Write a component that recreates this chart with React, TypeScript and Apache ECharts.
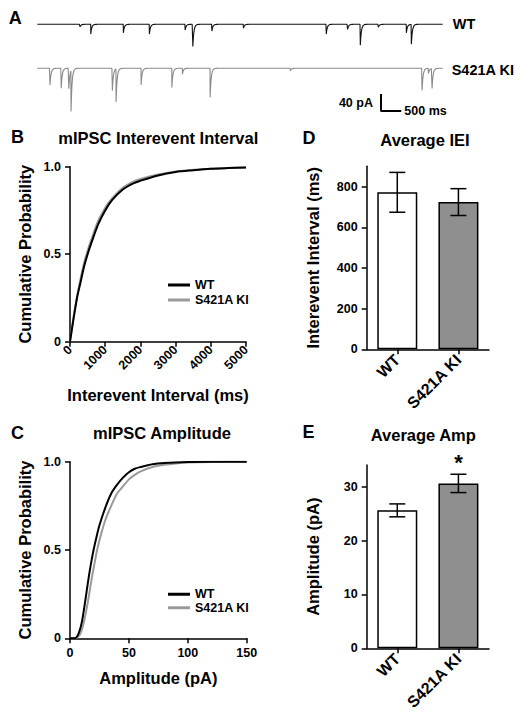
import React, { useEffect, useRef } from "react";
import * as echarts from "echarts";

// ---------- Panel A: mIPSC traces (event times in ms, amplitudes in pA) ----------
const traceDurationMs = 10000;
const wtEventTimes = [1054, 1319, 2123, 2765, 3647, 3837, 4306, 5086, 7128, 7654, 7968, 8412, 9104, 9227];
const wtEventAmps = [6, 23, 20, 23, 14, 52, 16, 9, 23, 12, 49, 7, 20, 47];
const kiEventTimes = [314, 590, 778, 832, 1852, 1943, 2560, 3319, 3580, 4264, 6240, 9491, 9650, 9738];
const kiEventAmps = [39, 47, 48, 96, 52, 78, 39, 45, 14, 68, 6, 52, 12, 47];
const traceOffsetsPa = [0, -103.5];
const decayTauMs = 25;
const scaleBarOrigin = [8478, -204];
const scaleBarMs = 500;
const scaleBarPa = 40;

// ---------- Panel B: cumulative IEI ----------
const ieiMs = [0, 100, 200, 300, 400, 500, 600, 800, 1000, 1200, 1500, 1800, 2000, 2500, 3000, 3500, 4000, 4500, 5000];
const ieiCdfWT = [0, 0.13, 0.25, 0.34, 0.43, 0.5, 0.56, 0.67, 0.75, 0.81, 0.87, 0.905, 0.92, 0.95, 0.97, 0.98, 0.988, 0.992, 0.995];
const ieiCdfKI = [0, 0.14, 0.26, 0.36, 0.45, 0.52, 0.58, 0.69, 0.765, 0.82, 0.88, 0.915, 0.93, 0.955, 0.972, 0.982, 0.988, 0.993, 0.996];

// ---------- Panel C: cumulative amplitude ----------
const ampPaWT = [0, 4, 6, 8, 10, 12, 14, 16, 18, 20, 22, 25, 30, 35, 40, 45, 50, 55, 60, 70, 80, 100, 120, 150];
const ampCdfWT = [0, 0, 0.01, 0.04, 0.09, 0.17, 0.26, 0.35, 0.43, 0.5, 0.56, 0.64, 0.74, 0.82, 0.87, 0.91, 0.94, 0.96, 0.97, 0.985, 0.992, 0.998, 1, 1];
const ampPaKI = [0, 5, 7, 9, 11, 13, 15, 17, 19, 21, 23, 26, 30, 35, 40, 45, 50, 55, 60, 70, 80, 90, 100, 120, 150];
const ampCdfKI = [0, 0, 0.01, 0.03, 0.07, 0.13, 0.2, 0.28, 0.36, 0.43, 0.5, 0.58, 0.67, 0.75, 0.82, 0.86, 0.9, 0.925, 0.945, 0.97, 0.982, 0.99, 0.995, 0.999, 1];

// ---------- Panels D, E: averages ----------
const groups = ["WT", "S421A KI"];
const ieiMean = [772, 724];
const ieiSem = [98, 66];
const ampMean = [25.6, 30.6];
const ampSem = [1.2, 1.7];
const ampSig = ["", "*"];

const FONT = "'Liberation Sans', Arial, Helvetica, sans-serif";
const BLACK = "#000000";
const GREY_LINE = "#9a9a9a";
const GREY_TRACE = "#8a8a8a";
const GREY_BAR = "#8f8f8f";

function buildTrace(times: number[], amps: number[], offset: number): number[][] {
  const ts = new Set<number>();
  for (let t = 0; t <= traceDurationMs; t += 20) ts.add(t);
  const ks = [0.3, 0.7, 1, 1.5, 2, 3, 4];
  times.forEach((t0) => {
    ts.add(t0 - 1);
    ts.add(t0);
    ks.forEach((k) => ts.add(t0 + k * decayTauMs));
  });
  const sorted = Array.from(ts).filter((t) => t >= 0 && t <= traceDurationMs).sort((a, b) => a - b);
  return sorted.map((t) => {
    let v = offset;
    times.forEach((t0, i) => {
      if (t >= t0) v -= amps[i] * Math.exp(-(t - t0) / decayTauMs);
    });
    return [t, v];
  });
}

const zip = (xs: number[], ys: number[]) => xs.map((x, i) => [x, ys[i]]);

const axisLineStyle = { lineStyle: { color: BLACK, width: 1.5 } };
const tickStyle = { show: true, length: 5, lineStyle: { color: BLACK, width: 1.5 } };
const labelStyle = (size: number) => ({ color: BLACK, fontWeight: "bold" as const, fontSize: size, fontFamily: FONT });
const nameStyle = { color: BLACK, fontWeight: "bold" as const, fontSize: 16.5, fontFamily: FONT };

function errorBarRender(withSig: string[] | null) {
  return (params: any, api: any) => {
    const idx = api.value(0);
    const m = api.value(1);
    const e = api.value(2);
    const top = api.coord([idx, m + e]);
    const bot = api.coord([idx, m - e]);
    const hw = 8;
    const st = { stroke: BLACK, lineWidth: 1.5 };
    const children: any[] = [
      { type: "line", shape: { x1: top[0], y1: top[1], x2: bot[0], y2: bot[1] }, style: st },
      { type: "line", shape: { x1: top[0] - hw, y1: top[1], x2: top[0] + hw, y2: top[1] }, style: st },
      { type: "line", shape: { x1: bot[0] - hw, y1: bot[1], x2: bot[0] + hw, y2: bot[1] }, style: st },
    ];
    if (withSig && withSig[params.dataIndex]) {
      children.push({
        type: "text",
        x: top[0],
        y: top[1] - 12,
        style: {
          text: withSig[params.dataIndex],
          fill: BLACK,
          font: `bold 22px ${FONT}`,
          align: "center",
          verticalAlign: "middle",
        },
      });
    }
    return { type: "group", children };
  };
}

export default function App() {
  const ref = useRef<HTMLDivElement>(null);
  useEffect(() => {
    if (!ref.current) return;
    const chart = echarts.init(ref.current, null, { renderer: "svg" });

    const wtTrace = buildTrace(wtEventTimes, wtEventAmps, traceOffsetsPa[0]);
    const kiTrace = buildTrace(kiEventTimes, kiEventAmps, traceOffsetsPa[1]);
    const [sbT, sbV] = scaleBarOrigin;

    const txt = (text: string, x: number, y: number, size: number, align = "center") => ({
      type: "text",
      x,
      y,
      style: { text, fill: BLACK, font: `bold ${size}px ${FONT}`, align, verticalAlign: "middle" },
    });

    const plain = (v: number) => String(v);

    const option: any = {
      animation: false,
      backgroundColor: "#ffffff",
      textStyle: { fontFamily: FONT },
      grid: [
        { left: 37.3, top: 14, width: 405.4, height: 100 },
        { left: 70, top: 166.7, width: 176, height: 175 },
        { left: 70, top: 461.7, width: 176.7, height: 176.6 },
        { left: 366.7, top: 166.3, width: 122.3, height: 183 },
        { left: 366.7, top: 465.1, width: 122.3, height: 183.2 },
      ],
      xAxis: [
        { gridIndex: 0, type: "value", min: 0, max: traceDurationMs, show: false },
        {
          gridIndex: 1, type: "value", min: 0, max: 5000, interval: 1000,
          axisLine: axisLineStyle, axisTick: tickStyle, splitLine: { show: false },
          axisLabel: { ...labelStyle(12.5), rotate: 45, margin: 6, formatter: plain },
          name: "Interevent Interval (ms)", nameLocation: "middle", nameGap: 45, nameTextStyle: nameStyle,
        },
        {
          gridIndex: 2, type: "value", min: 0, max: 150, interval: 50,
          axisLine: axisLineStyle, axisTick: tickStyle, splitLine: { show: false },
          axisLabel: { ...labelStyle(12.5), margin: 8, formatter: plain },
          name: "Amplitude (pA)", nameLocation: "middle", nameGap: 31, nameTextStyle: nameStyle,
        },
        {
          gridIndex: 3, type: "category", data: groups,
          axisLine: axisLineStyle, axisTick: { ...tickStyle, alignWithLabel: true },
          axisLabel: { ...labelStyle(16), rotate: 45, margin: 8, interval: 0 },
        },
        {
          gridIndex: 4, type: "category", data: groups,
          axisLine: axisLineStyle, axisTick: { ...tickStyle, alignWithLabel: true },
          axisLabel: { ...labelStyle(16), rotate: 45, margin: 8, interval: 0 },
        },
      ],
      yAxis: [
        { gridIndex: 0, type: "value", min: -211.05, max: 24.24, show: false },
        {
          gridIndex: 1, type: "value", min: 0, max: 1, interval: 0.5,
          axisLine: { show: true, ...axisLineStyle }, axisTick: tickStyle, splitLine: { show: false },
          axisLabel: { ...labelStyle(12.5), margin: 9, formatter: (v: number) => (v === 0 ? "0" : v.toFixed(1)) },
          name: "Cumulative Probability", nameLocation: "middle", nameGap: 37, nameTextStyle: nameStyle,
        },
        {
          gridIndex: 2, type: "value", min: 0, max: 1, interval: 0.5,
          axisLine: { show: true, ...axisLineStyle }, axisTick: tickStyle, splitLine: { show: false },
          axisLabel: { ...labelStyle(12.5), margin: 9, formatter: (v: number) => (v === 0 ? "0" : v.toFixed(1)) },
          name: "Cumulative Probability", nameLocation: "middle", nameGap: 37, nameTextStyle: nameStyle,
        },
        {
          gridIndex: 3, type: "value", min: 0, max: 900,
          axisLine: { show: true, ...axisLineStyle },
          axisTick: { ...tickStyle, customValues: [0, 200, 400, 600, 800] },
          splitLine: { show: false },
          axisLabel: { ...labelStyle(12.5), margin: 9, customValues: [0, 200, 400, 600, 800], formatter: plain },
          name: "Interevent Interval (ms)", nameLocation: "middle", nameGap: 45, nameTextStyle: nameStyle,
        },
        {
          gridIndex: 4, type: "value", min: 0, max: 34,
          axisLine: { show: true, ...axisLineStyle },
          axisTick: { ...tickStyle, customValues: [0, 10, 20, 30] },
          splitLine: { show: false },
          axisLabel: { ...labelStyle(12.5), margin: 9, customValues: [0, 10, 20, 30], formatter: plain },
          name: "Amplitude (pA)", nameLocation: "middle", nameGap: 45, nameTextStyle: nameStyle,
        },
      ],
      legend: [
        {
          left: 168, top: 277.5, padding: 0, orient: "vertical", itemGap: 0,
          itemWidth: 22, itemHeight: 3, icon: "rect", selectedMode: false,
          data: ["WT", "S421A KI"],
          textStyle: { ...labelStyle(12.5), lineHeight: 15 },
        },
        {
          left: 168, top: 587.5, padding: 0, orient: "vertical", itemGap: 0,
          itemWidth: 22, itemHeight: 3, icon: "rect", selectedMode: false,
          data: ["WT", "S421A KI"],
          textStyle: { ...labelStyle(12.5), lineHeight: 13.5 },
        },
      ],
      series: [
        {
          name: "WT trace", type: "line", xAxisIndex: 0, yAxisIndex: 0, data: wtTrace,
          showSymbol: false, lineStyle: { color: "#111111", width: 1.1 }, color: "#111111",
        },
        {
          name: "S421A KI trace", type: "line", xAxisIndex: 0, yAxisIndex: 0, data: kiTrace,
          showSymbol: false, lineStyle: { color: GREY_TRACE, width: 1.1 }, color: GREY_TRACE,
        },
        {
          name: "scale bar", type: "line", xAxisIndex: 0, yAxisIndex: 0,
          showSymbol: true, symbol: "circle", symbolSize: 0.1, showAllSymbol: true,
          lineStyle: { color: BLACK, width: 2 }, color: BLACK,
          labelLayout: { hideOverlap: false },
          data: [
            [sbT, sbV + scaleBarPa],
            { value: [sbT, sbV + scaleBarPa / 2], label: { show: true, position: "left", distance: 8, formatter: `${scaleBarPa} pA`, ...labelStyle(12.5) } },
            [sbT, sbV],
            { value: [sbT + scaleBarMs, sbV], label: { show: true, position: "right", distance: 3, formatter: `${scaleBarMs} ms`, ...labelStyle(12.5) } },
          ],
        },
        {
          name: "WT", type: "line", xAxisIndex: 1, yAxisIndex: 1, data: zip(ieiMs, ieiCdfWT),
          showSymbol: false, smooth: 0.3, color: BLACK, lineStyle: { color: BLACK, width: 2 }, z: 3,
        },
        {
          name: "S421A KI", type: "line", xAxisIndex: 1, yAxisIndex: 1, data: zip(ieiMs, ieiCdfKI),
          showSymbol: false, smooth: 0.3, color: GREY_LINE, lineStyle: { color: GREY_LINE, width: 2 }, z: 2,
        },
        {
          name: "WT", type: "line", xAxisIndex: 2, yAxisIndex: 2, data: zip(ampPaWT, ampCdfWT),
          showSymbol: false, smooth: 0.3, color: BLACK, lineStyle: { color: BLACK, width: 2 }, z: 3,
        },
        {
          name: "S421A KI", type: "line", xAxisIndex: 2, yAxisIndex: 2, data: zip(ampPaKI, ampCdfKI),
          showSymbol: false, smooth: 0.3, color: GREY_LINE, lineStyle: { color: GREY_LINE, width: 2 }, z: 2,
        },
        {
          name: "Average IEI", type: "bar", xAxisIndex: 3, yAxisIndex: 3, barWidth: 40,
          data: ieiMean.map((v, i) => ({ value: v, itemStyle: { color: i === 0 ? "#ffffff" : GREY_BAR } })),
          itemStyle: { borderColor: BLACK, borderWidth: 1.5 },
        },
        {
          name: "IEI error", type: "custom", xAxisIndex: 3, yAxisIndex: 3, z: 5,
          data: ieiMean.map((v, i) => [i, v, ieiSem[i]]),
          renderItem: errorBarRender(null),
        },
        {
          name: "Average Amp", type: "bar", xAxisIndex: 4, yAxisIndex: 4, barWidth: 40,
          data: ampMean.map((v, i) => ({ value: v, itemStyle: { color: i === 0 ? "#ffffff" : GREY_BAR } })),
          itemStyle: { borderColor: BLACK, borderWidth: 1.5 },
        },
        {
          name: "Amp error", type: "custom", xAxisIndex: 4, yAxisIndex: 4, z: 5,
          data: ampMean.map((v, i) => [i, v, ampSem[i]]),
          renderItem: errorBarRender(ampSig),
        },
      ],
      graphic: [
        txt("A", 15.3, 18.3, 18),
        txt("WT", 452.7, 23.5, 14.5, "left"),
        txt("S421A KI", 451.7, 70, 14.5, "left"),
        txt("B", 17.5, 137, 18),
        txt("mIPSC Interevent Interval", 158.3, 138.3, 16.5),
        txt("C", 17.5, 432.7, 18),
        txt("mIPSC Amplitude", 162, 433, 16.5),
        txt("D", 309, 137.5, 18),
        txt("Average IEI", 425, 140, 16.5),
        txt("E", 308.5, 432, 18),
        txt("Average Amp", 423.3, 435, 16.5),
      ],
    };
    chart.setOption(option);
    return () => chart.dispose();
  }, []);
  return <div ref={ref} style={{ position: "absolute", left: 0, top: 0, width: 531, height: 722 }} />;
}
